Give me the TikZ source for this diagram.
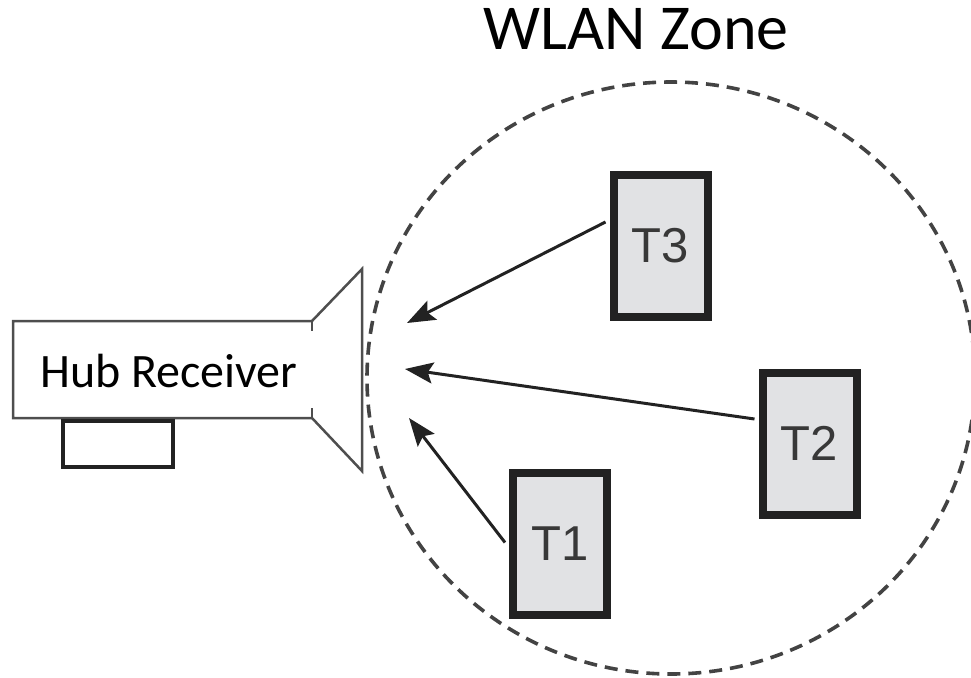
\documentclass[tikz,border=0pt]{standalone}
\usepackage{fontspec}
\setmainfont{Carlito}
\newfontfamily\tfont{Liberation Sans}
\usetikzlibrary{arrows.meta,calc}
\definecolor{boxfill}{HTML}{E1E2E4}
\definecolor{ink}{HTML}{222222}
\tikzset{
  term/.style={draw=ink, fill=boxfill, line width=8pt, minimum width=94pt, minimum height=142pt, inner sep=0pt, font=\tfont\fontsize{49}{49}\selectfont, text=ink!90},
  sig/.style={line width=3pt, draw=ink, -{Stealth[length=28pt,width=21pt,inset=5pt]}},
  zone/.style={line width=3.6pt, draw=ink!85, dash pattern=on 13pt off 8pt},
}
\begin{document}
\begin{tikzpicture}[x=1pt,y=-1pt]
\useasboundingbox (0,0) rectangle (971,677);
% WLAN zone
\draw[zone] (671,378) ellipse [x radius=304, y radius=296];
\node[anchor=base, font=\fontsize{64}{64}\selectfont, inner sep=0pt] (title) at (636,50) {WLAN Zone};
% hub receiver
\draw[line width=2.5pt, draw=ink!80] (13,321) -- (312,321) -- (362,269) -- (362,471) -- (312,418) -- (13,418) -- cycle;
\draw[line width=2.5pt, draw=ink!80] (312,321) -- (312,331) (312,408) -- (312,418);
\draw[line width=4.5pt, draw=ink] (63,421) rectangle (173,467);
\node[anchor=base west, font=\fontsize{48}{48}\selectfont, inner sep=0pt] (hub) at (40,387) {Hub Receiver};
% terminals
\node[term] (T3) at (660.5,246) {T3};
\node[term] (T2) at (809.5,443.5) {T2};
\node[term] (T1) at (560,543.5) {T1};
% arrow tips
\coordinate (a3) at (407,323);
\coordinate (a2) at (405,369);
\coordinate (a1) at (409,418);
\draw[sig] ($(T3.west)+(-4,-24)$) -- (a3);
\draw[sig] ($(T2.west)+(-4,-24.5)$) -- (a2);
\draw[sig] ($(T1.west)+(-4,-1)$) -- (a1);
\end{tikzpicture}
\end{document}
